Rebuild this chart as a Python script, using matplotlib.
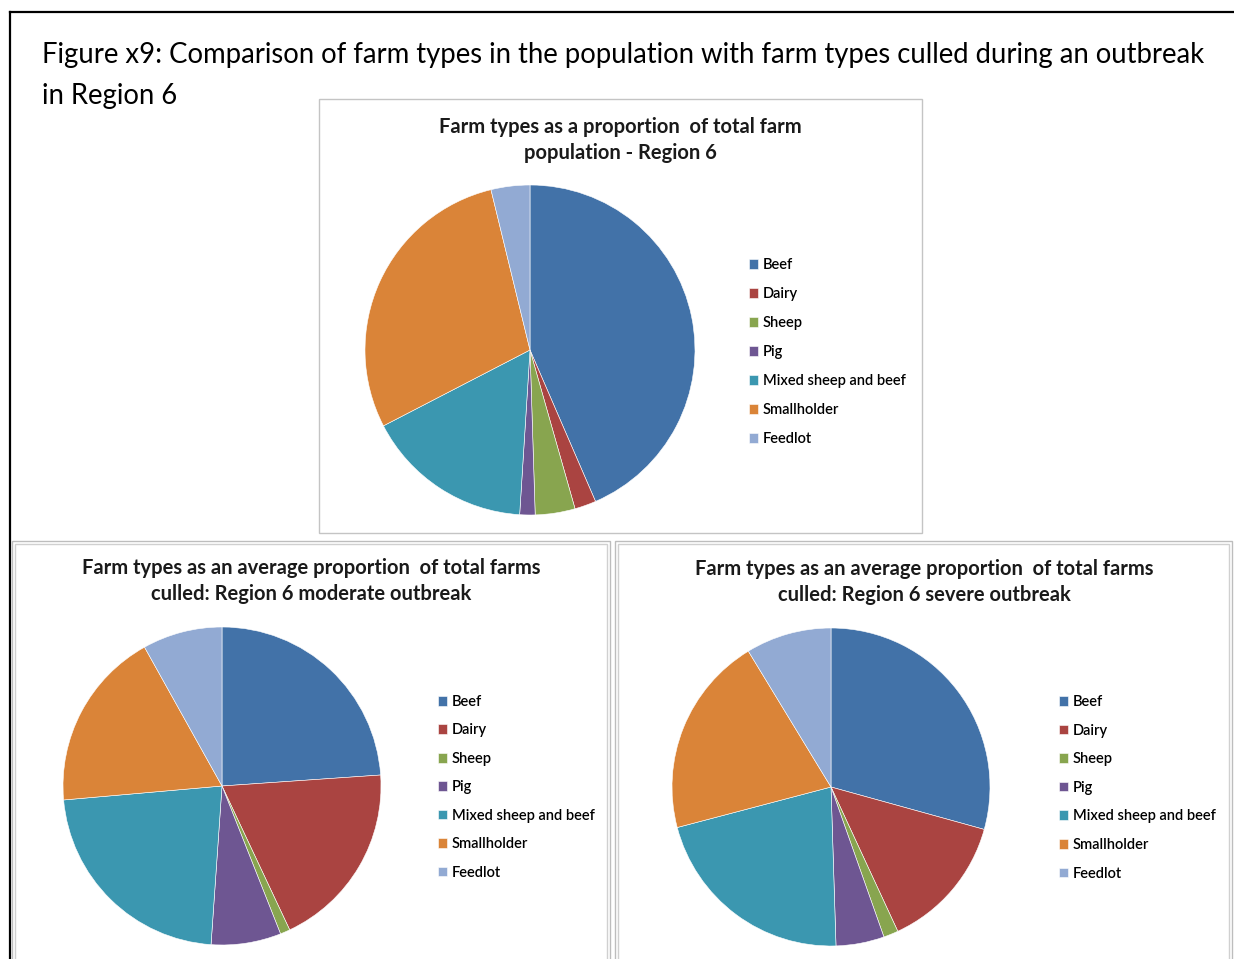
import matplotlib.pyplot as plt
from matplotlib.patches import Rectangle
from matplotlib.lines import Line2D

plt.rcParams['font.family'] = ['Lato', 'DejaVu Sans']

W, H = 1234, 959

farm_types = ['Beef', 'Dairy', 'Sheep', 'Pig', 'Mixed sheep and beef',
              'Smallholder', 'Feedlot']
colors = ['#4272A8', '#AA4441', '#88A54F', '#6E5692', '#3B97B0',
          '#DA8438', '#92AAD3']

# percentage of farms by type
population = [43.5, 2.1, 3.9, 1.5, 16.4, 28.8, 3.8]
culled_moderate = [23.9, 19.1, 1.0, 7.1, 22.5, 18.3, 8.1]
culled_severe = [29.3, 13.8, 1.5, 4.9, 21.4, 20.4, 8.7]

fig_title = ['Figure x9: Comparison of farm types in the population with farm types culled during an outbreak',
             'in Region 6']
chart_titles = ['Farm types as a proportion  of total farm\npopulation - Region 6',
                'Farm types as an average proportion  of total farms\nculled: Region 6 moderate outbreak',
                'Farm types as an average proportion  of total farms\nculled: Region 6 severe outbreak']


def fx(x):
    return x / W


def fy(y):
    return 1 - y / H


fig = plt.figure(figsize=(W / 100, H / 100), dpi=100)


def box(x0, y0, x1, y1, color='#bdbdbd', lw=1.0):
    fig.add_artist(Rectangle((fx(x0), fy(y1)), fx(x1) - fx(x0), fy(y0) - fy(y1),
                             transform=fig.transFigure, fill=False,
                             edgecolor=color, linewidth=lw))


# page frame
fig.add_artist(Line2D([fx(10), fx(1240)], [fy(12), fy(12)], color='black', lw=1.6,
                      transform=fig.transFigure))
fig.add_artist(Line2D([fx(10), fx(10)], [fy(12), fy(965)], color='black', lw=1.6,
                      transform=fig.transFigure))

# chart boxes
box(319, 99, 922, 533, color='#c4c4c4')
box(12, 541, 610, 965)
box(15, 544, 607, 965, color='#d0d0d0')
box(615, 541, 1232, 965)
box(618, 544, 1229, 965, color='#d0d0d0')

fig.text(fx(42), fy(55), fig_title[0], fontsize=19.8, va='center', ha='left')
fig.text(fx(42), fy(96), fig_title[1], fontsize=19.8, va='center', ha='left')


def pie_chart(values, cx, cy, r, title, tx, ty, lx, ly, spacing):
    ax = fig.add_axes([fx(cx - r), fy(cy + r), 2 * r / W, 2 * r / H])
    wedges, _ = ax.pie(values, colors=colors, startangle=90, counterclock=False,
                       wedgeprops=dict(edgecolor='white', linewidth=0.4))
    ax.set_xlim(-1, 1)
    ax.set_ylim(-1, 1)
    ax.axis('off')
    fig.text(fx(tx), fy(ty), title, fontsize=14.5, fontweight='bold', ha='center',
             va='top', linespacing=1.35, color='#1a1a1a')
    fig.legend(wedges, farm_types, loc='upper left',
               bbox_to_anchor=(fx(lx), fy(ly)), bbox_transform=fig.transFigure,
               frameon=False, handlelength=0.65, handleheight=0.65,
               handletextpad=0.3, labelspacing=spacing, borderpad=0, borderaxespad=0,
               prop=dict(weight='semibold', size=10.5))


pie_chart(population, 530, 350, 165, chart_titles[0], 620, 117, 749, 258, 1.03)
pie_chart(culled_moderate, 222, 786, 159, chart_titles[1], 311, 558, 438, 695, 0.99)
pie_chart(culled_severe, 831, 787, 159, chart_titles[2], 924, 559, 1059, 695, 1.0)

fig.savefig('out.png', dpi=100, facecolor='white')
